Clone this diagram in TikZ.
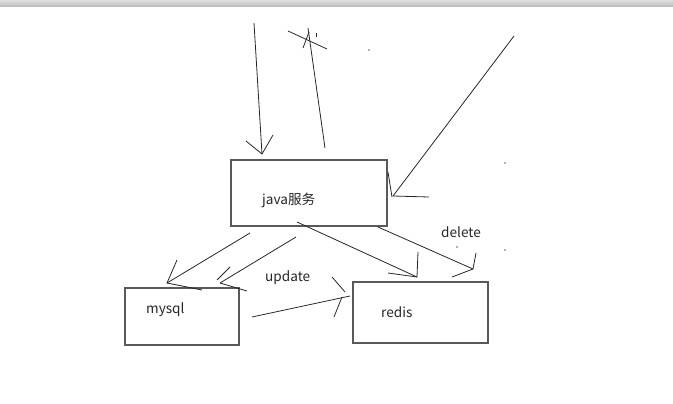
\documentclass[tikz,border=0pt]{standalone}
\usepackage{fontspec}
\setmainfont{Noto Sans CJK SC}
\begin{document}
\begin{tikzpicture}[x=1pt,y=-1pt,
  boxstyle/.style={draw=black!65,line width=1.2pt,fill=none,inner sep=0pt},
  stroke/.style={draw=black!85,line width=0.8pt},
  lbl/.style={font=\fontsize{13.6}{15}\selectfont,text=black!85,inner sep=0pt,anchor=west}]
\useasboundingbox (0,0) rectangle (673,404);
\shade[top color=black!12,bottom color=black!28] (0,0) rectangle (673,7);
% boxes
\node[boxstyle,minimum width=156pt,minimum height=66pt] (java) at (309,193) {};
\node[boxstyle,minimum width=114pt,minimum height=57pt] (mysql) at (182,316.5) {};
\node[boxstyle,minimum width=135pt,minimum height=61pt] (redis) at (420.5,312.5) {};
% labels
\node[lbl] (tjava) at (262,200) {java服务};
\node[lbl] (tmysql) at (146,310) {mysql};
\node[lbl] (tredis) at (381,312) {redis};
\node[lbl] (tupdate) at (265,278) {update};
\node[lbl] (tdelete) at (441,232) {delete};
% coordinates
\coordinate (a1s) at (254,23); \coordinate (a1e) at (262,154);
\coordinate (a1l) at (246,141); \coordinate (a1r) at (273,135);
\coordinate (a2s) at (325,148); \coordinate (a2e) at (308,28);
\coordinate (a2x1) at (288,31); \coordinate (a2x2) at (327,49);
\coordinate (a2y1) at (303,48); \coordinate (a2y2) at (309,32);
\coordinate (a2t1) at (316,33); \coordinate (a2t2) at (316,37);
\coordinate (a3s) at (514,36); \coordinate (a3e) at (393,196);
\coordinate (a3h1) at (388,172); \coordinate (a3h2) at (392,197);
\coordinate (a3h3) at (429,197);
\coordinate (bAs) at (250,233); \coordinate (bAe) at (167,283);
\coordinate (bAh1) at (177,260); \coordinate (bAh2) at (202,290);
\coordinate (bBs) at (296,237); \coordinate (bBe) at (220,283);
\coordinate (bBh1) at (230,267); \coordinate (bBh2) at (217,280);
\coordinate (bBh3) at (247,291);
\coordinate (bCs) at (297,222); \coordinate (bCe) at (417,277);
\coordinate (bCh1) at (418,252); \coordinate (bCh2) at (388,273);
\coordinate (bDs) at (378,227); \coordinate (bDe) at (473,269);
\coordinate (bDh1) at (476,253); \coordinate (bDh2) at (452,277);
\coordinate (bEs) at (252,317); \coordinate (bEe) at (350,296);
\coordinate (bEh1) at (332,277); \coordinate (bEh2) at (345,292);
\coordinate (bEh3) at (334,317); \coordinate (bEh4) at (342,297);
% strokes
\draw[stroke] (a1s) -- (a1e); \draw[stroke] (a1l) -- (a1e) -- (a1r);
\draw[stroke] (a2s) -- (a2e); \draw[stroke] (a2x1) -- (a2x2);
\draw[stroke] (a2y1) -- (a2y2); \draw[stroke] (a2t1) -- (a2t2);
\draw[stroke] (a3s) -- (a3e); \draw[stroke] (a3h1) -- (a3h2);
\draw[stroke] (a3e) -- (a3h3);
\draw[stroke] (bAs) -- (bAe); \draw[stroke] (bAh1) -- (bAe) -- (bAh2);
\draw[stroke] (bBs) -- (bBe); \draw[stroke] (bBh1) -- (bBh2);
\draw[stroke] (bBe) -- (bBh3);
\draw[stroke] (bCs) -- (bCe); \draw[stroke] (bCh1) -- (bCe) -- (bCh2);
\draw[stroke] (bDs) -- (bDe); \draw[stroke] (bDh1) -- (bDe) -- (bDh2);
\draw[stroke] (bEs) -- (bEe); \draw[stroke] (bEh1) -- (bEh2);
\draw[stroke] (bEh3) -- (bEh4);
% specks
\fill[black!60] (369,50) circle (0.8); \coordinate (d1) at (369,50);
\fill[black!60] (505,163) circle (0.8); \coordinate (d2) at (505,163);
\fill[black!60] (505,250) circle (0.8); \coordinate (d3) at (505,250);
\fill[black!60] (457,247) circle (0.8); \coordinate (d4) at (457,247);
\end{tikzpicture}
\end{document}
